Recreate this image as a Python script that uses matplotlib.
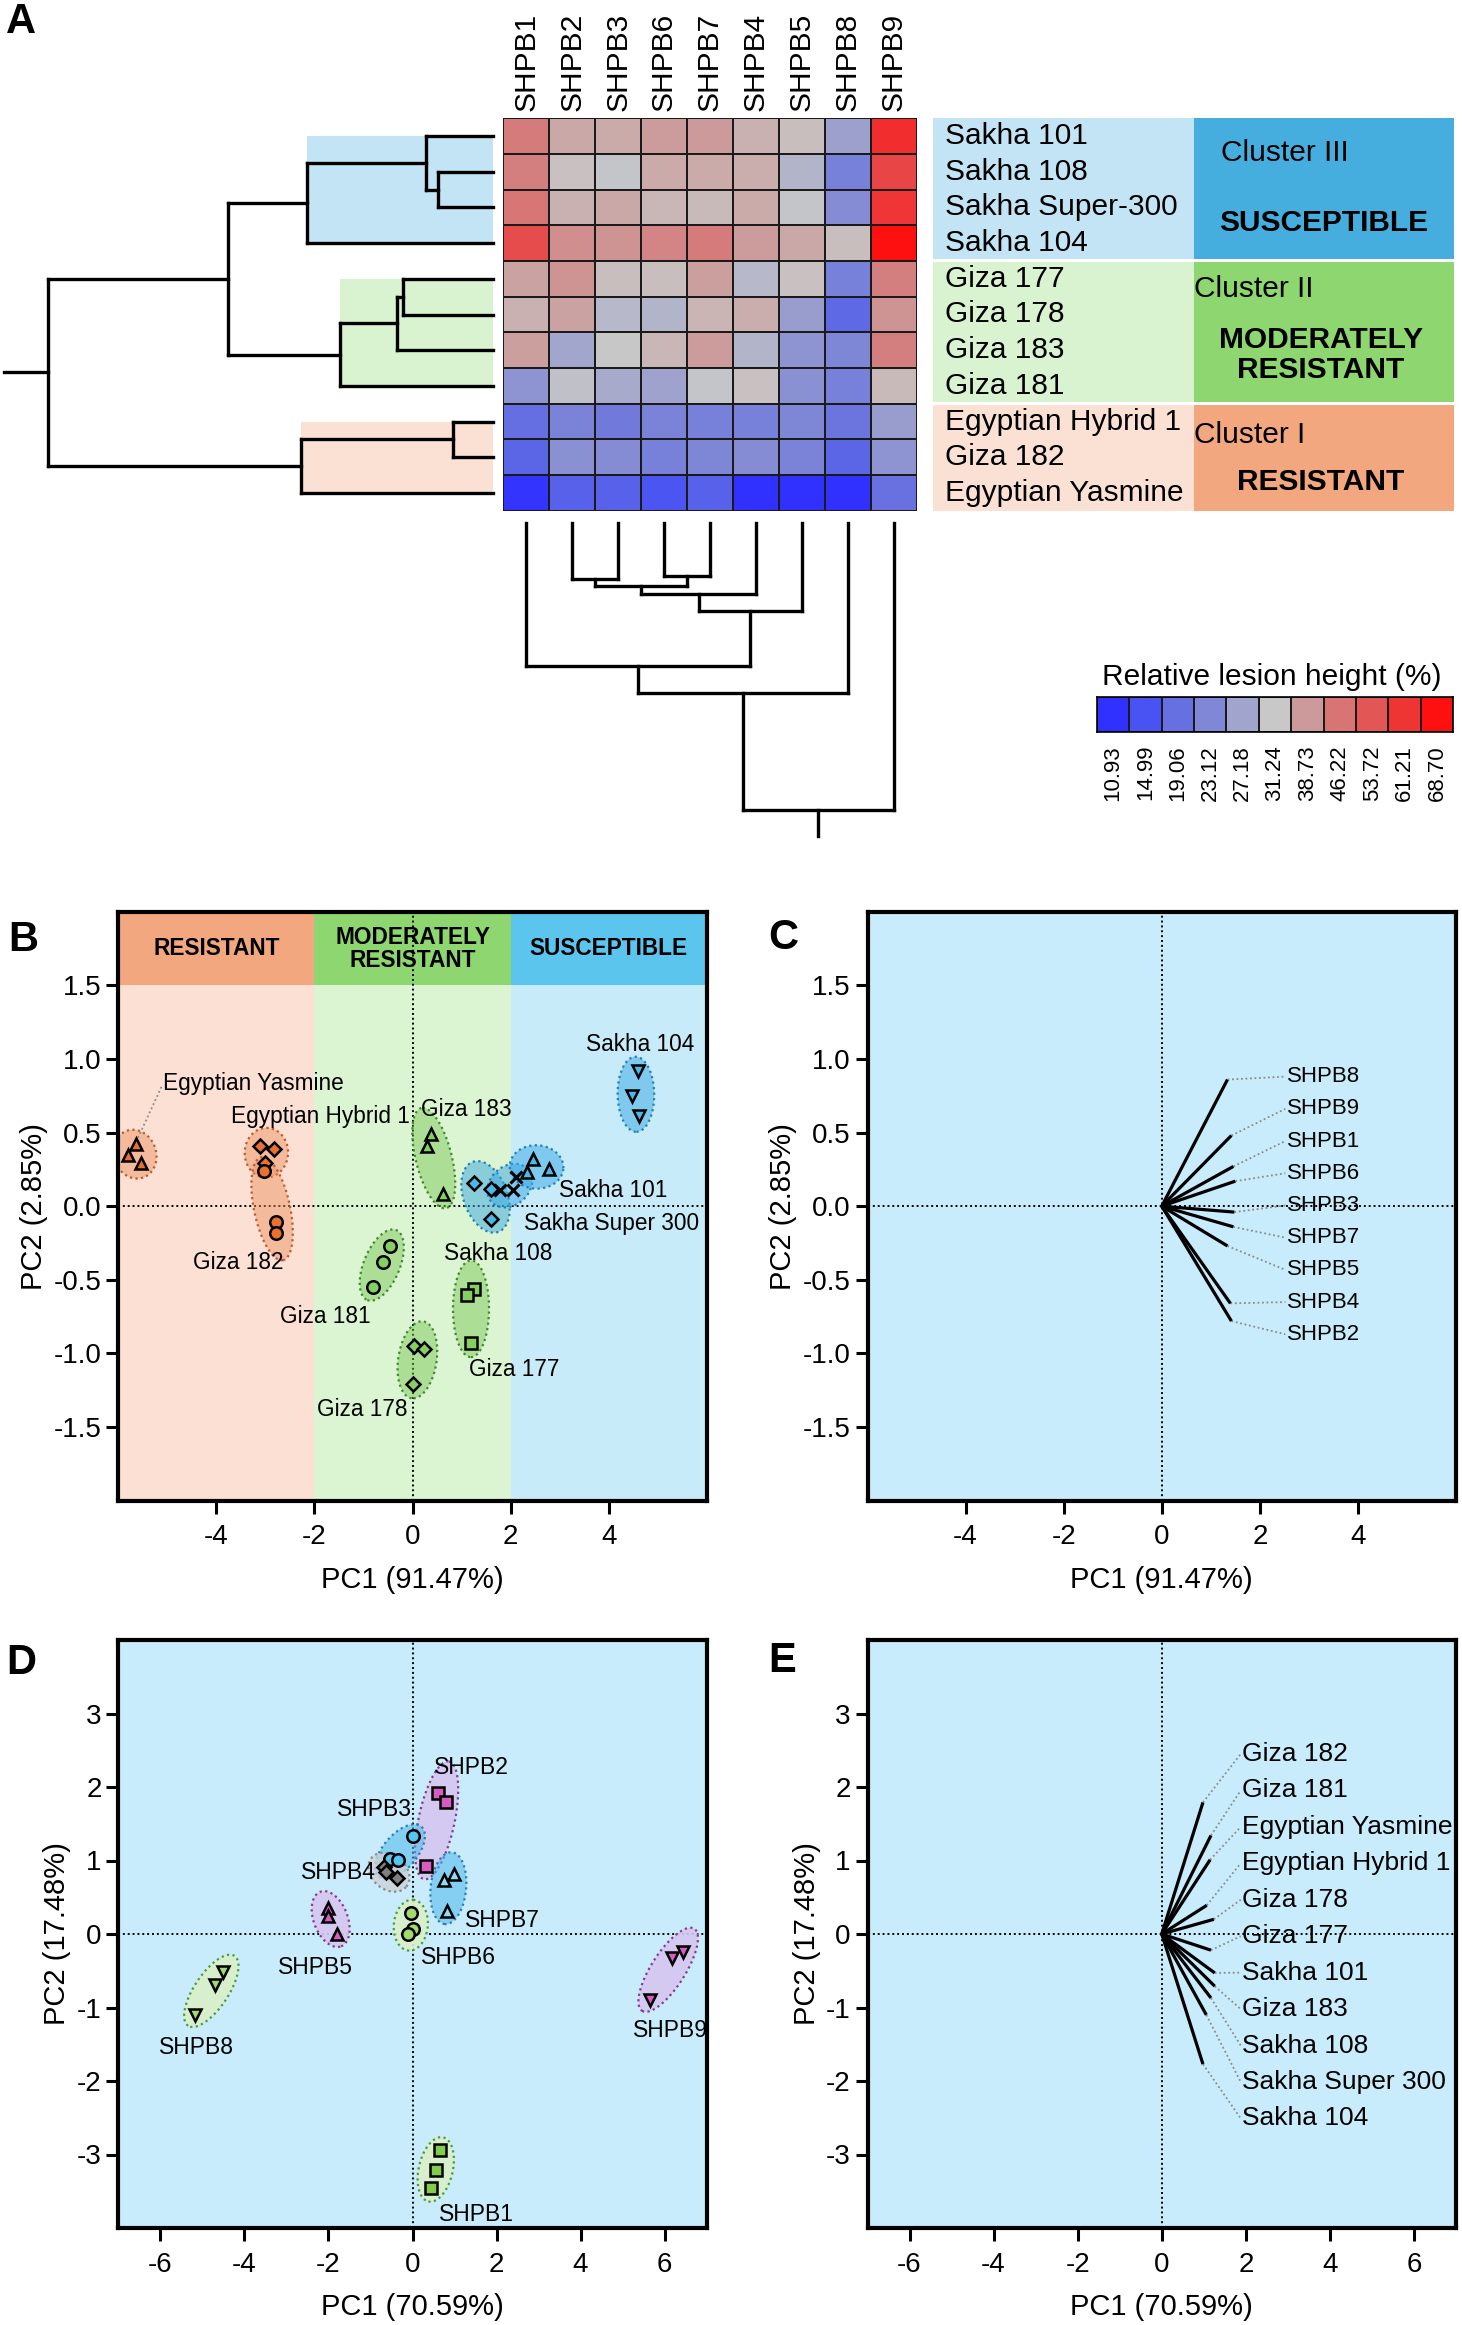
import numpy as np
import matplotlib
matplotlib.use('Agg')
import matplotlib.pyplot as plt
from matplotlib.colors import LinearSegmentedColormap, Normalize

plt.rcParams['font.family'] = ['Liberation Sans', 'DejaVu Sans']
plt.rcParams['axes.unicode_minus'] = False

# ---------------- data ----------------
cultivars = ['Sakha 101', 'Sakha 108', 'Sakha Super-300', 'Sakha 104',
             'Giza 177', 'Giza 178', 'Giza 183', 'Giza 181',
             'Egyptian Hybrid 1', 'Giza 182', 'Egyptian Yasmine']
isolates = ['SHPB1', 'SHPB2', 'SHPB3', 'SHPB6', 'SHPB7', 'SHPB4', 'SHPB5', 'SHPB8', 'SHPB9']

lesion = [
    [45.0, 36.5, 36.0, 38.3, 38.7, 35.0, 33.0, 26.8, 62.5],
    [44.0, 32.5, 31.0, 36.0, 36.0, 35.5, 29.0, 22.0, 57.0],
    [46.0, 35.0, 36.5, 34.0, 33.5, 36.0, 31.0, 24.0, 61.0],
    [56.0, 41.0, 40.0, 43.0, 45.0, 38.5, 36.5, 33.0, 68.7],
    [37.5, 40.0, 33.0, 33.0, 38.0, 29.5, 32.5, 22.0, 44.0],
    [35.0, 37.5, 29.5, 29.0, 34.5, 35.5, 26.5, 18.0, 40.0],
    [38.0, 27.5, 31.2, 34.0, 38.5, 29.0, 25.0, 23.0, 44.0],
    [25.0, 30.5, 28.0, 27.0, 31.0, 32.5, 24.5, 22.0, 33.5],
    [19.0, 22.5, 21.0, 22.5, 22.0, 22.0, 23.0, 20.0, 26.5],
    [17.5, 24.5, 24.0, 22.0, 23.0, 24.0, 22.5, 17.5, 25.0],
    [11.5, 17.0, 17.0, 15.0, 17.0, 11.0, 11.0, 11.0, 19.5],
]

legend_vals = [10.93, 14.99, 19.06, 23.12, 27.18, 31.24, 38.73, 46.22, 53.72, 61.21, 68.70]
legend_cols = ['#3030ff', '#4a55f2', '#6670e0', '#7f87d6', '#a0a3cc', '#c8c8c8',
               '#cc9a9a', '#d87474', '#e25656', '#ef3434', '#ff1010']

# dendrogram merges (child a, child b, height); nodes numbered after the leaves
row_merges = [(1, 2, 55.0), (0, 11, 66.7), (12, 3, 185.4), (4, 5, 89.4), (14, 6, 95.4),
              (15, 7, 152.7), (13, 16, 264.4), (8, 9, 40.0), (18, 10, 191.7), (17, 19, 445.0)]
row_root_stem = 488.7
col_merges = [(1, 2, 56.0), (3, 4, 52.7), (9, 10, 62.3), (11, 5, 70.7), (12, 6, 87.3),
              (0, 13, 142.3), (14, 7, 170.0), (15, 8, 286.7)]
col_root_stem = 312.7

cluster_names = ['Cluster III', 'Cluster II', 'Cluster I']
cluster_class = ['SUSCEPTIBLE', 'MODERATELY\nRESISTANT', 'RESISTANT']
cluster_rows = [(0, 3), (4, 7), (8, 10)]
cluster_node = [2, 5, 8]   # index of merge that closes each cluster

# PCA of cultivars (panel B), 3 replicates each
b_groups = ['Egyptian Yasmine', 'Egyptian Hybrid 1', 'Giza 182', 'Giza 183', 'Giza 181',
            'Giza 177', 'Giza 178', 'Sakha 108', 'Sakha Super 300', 'Sakha 101', 'Sakha 104']
b_pc1 = [[-5.81, -5.63, -5.54], [-3.11, -2.82, -3.01], [-3.03, -2.78, -2.78],
         [0.37, 0.30, 0.63], [-0.46, -0.61, -0.81], [1.26, 1.12, 1.20],
         [0.04, 0.24, 0.02], [1.26, 1.60, 1.61], [1.79, 2.05, 2.11],
         [2.46, 2.34, 2.79], [4.59, 4.47, 4.61]]
b_pc2 = [[0.35, 0.42, 0.29], [0.41, 0.39, 0.29], [0.24, -0.11, -0.18],
         [0.49, 0.41, 0.08], [-0.27, -0.38, -0.55], [-0.56, -0.60, -0.93],
         [-0.95, -0.97, -1.21], [0.16, 0.12, -0.09], [0.11, 0.11, 0.20],
         [0.32, 0.23, 0.25], [0.92, 0.75, 0.61]]
b_class = ['R', 'R', 'R', 'M', 'M', 'M', 'M', 'S', 'S', 'S', 'S']
b_marker = ['^', 'D', 'o', '^', 'o', 's', 'D', 'D', 'x', '^', 'v']

# loadings (panel C)
c_names = ['SHPB8', 'SHPB9', 'SHPB1', 'SHPB6', 'SHPB3', 'SHPB7', 'SHPB5', 'SHPB4', 'SHPB2']
c_pc1 = [1.34, 1.42, 1.46, 1.50, 1.48, 1.46, 1.34, 1.40, 1.42]
c_pc2 = [0.86, 0.48, 0.27, 0.17, -0.04, -0.14, -0.27, -0.66, -0.78]

# PCA of isolates (panel D)
d_groups = ['SHPB2', 'SHPB3', 'SHPB4', 'SHPB7', 'SHPB5', 'SHPB6', 'SHPB8', 'SHPB9', 'SHPB1']
d_pc1 = [[0.60, 0.79, 0.33], [0.00, -0.54, -0.35], [-0.68, -0.62, -0.38],
         [0.76, 0.98, 0.82], [-2.02, -2.02, -1.80], [-0.03, 0.02, -0.11],
         [-4.50, -4.69, -5.17], [6.43, 6.18, 5.64], [0.66, 0.55, 0.45]]
d_pc2 = [[1.92, 1.80, 0.92], [1.33, 1.02, 1.01], [0.91, 0.85, 0.76],
         [0.74, 0.82, 0.31], [0.36, 0.25, 0.00], [0.29, 0.07, 0.00],
         [-0.52, -0.70, -1.10], [-0.24, -0.32, -0.90], [-2.94, -3.21, -3.46]]
d_marker = ['s', 'o', 'D', '^', '^', 'o', 'v', 'v', 's']
d_style = ['pink', 'cyan', 'grey', 'lcyan', 'pink', 'lgreen', 'lgreen', 'pink', 'green']

# loadings (panel E)
e_names = ['Giza 182', 'Giza 181', 'Egyptian Yasmine', 'Egyptian Hybrid 1', 'Giza 178',
           'Giza 177', 'Sakha 101', 'Giza 183', 'Sakha 108', 'Sakha Super 300', 'Sakha 104']
e_pc1 = [0.98, 1.17, 1.15, 1.07, 1.24, 1.17, 1.26, 1.26, 1.17, 1.06, 0.98]
e_pc2 = [1.79, 1.34, 1.01, 0.39, 0.20, -0.22, -0.53, -0.71, -0.87, -1.10, -1.77]

# ---------------- layout helpers ----------------
W, H = 1462, 2325
fig = plt.figure(figsize=(W / 100, H / 100), dpi=100)


def px_axes(x0, y0, x1, y1):
    return fig.add_axes([x0 / W, 1 - y1 / H, (x1 - x0) / W, (y1 - y0) / H])


def ftext(x, y, s, **kw):
    fig.text(x / W, 1 - y / H, s, **kw)


def dendro_segments(merges, n):
    pos = {i: i + 0.5 for i in range(n)}
    hgt = {i: 0.0 for i in range(n)}
    segs = []
    for k, (a, b, h) in enumerate(merges):
        segs.append(((hgt[a], pos[a]), (h, pos[a])))
        segs.append(((hgt[b], pos[b]), (h, pos[b])))
        segs.append(((h, pos[a]), (h, pos[b])))
        pos[n + k] = (pos[a] + pos[b]) / 2
        hgt[n + k] = h
    return segs, pos, hgt


def group_ellipse(ax, xs, ys, sx, sy, face, edge, pad=14, min_r=18):
    P = np.column_stack([np.asarray(xs) * sx, np.asarray(ys) * sy])
    c = P.mean(axis=0)
    d = P - c
    _, _, vt = np.linalg.svd(d)
    proj = d @ vt.T
    a = np.abs(proj[:, 0]).max() + pad
    b = max(np.abs(proj[:, 1]).max() + pad, min_r)
    a = max(a, b)
    t = np.linspace(0, 2 * np.pi, 120)
    pts = c + np.outer(a * np.cos(t), vt[0]) + np.outer(b * np.sin(t), vt[1])
    ax.fill(pts[:, 0] / sx, pts[:, 1] / sy, facecolor=face, edgecolor=edge,
            ls=(0, (1, 1.5)), lw=1.6, zorder=2)


def style_pca(ax, xlim, ylim, xticks, yticks, yfmt, xlabel, ylabel, bg):
    ax.set_facecolor(bg)
    ax.set_xlim(*xlim)
    ax.set_ylim(*ylim)
    ax.set_xticks(xticks)
    ax.set_yticks(yticks)
    ax.set_yticklabels([yfmt.format(v) for v in yticks])
    ax.tick_params(labelsize=20, width=2.2, length=9, direction='out')
    ax.tick_params(axis='x', pad=8)
    ax.tick_params(axis='y', pad=3)
    for sp in ax.spines.values():
        sp.set_linewidth(3)
    ax.axhline(0, color='black', ls=(0, (1, 1.5)), lw=1.4, zorder=1.5)
    ax.axvline(0, color='black', ls=(0, (1, 1.5)), lw=1.4, zorder=1.5)
    ax.set_xlabel(xlabel, fontsize=21, labelpad=11)
    ax.set_ylabel(ylabel, fontsize=21, labelpad=4)


# ---------------- panel A ----------------
vmin, vmax = legend_vals[0], legend_vals[-1]
cmap = LinearSegmentedColormap.from_list(
    'lesion', list(zip([(v - vmin) / (vmax - vmin) for v in legend_vals], legend_cols)))
norm = Normalize(vmin, vmax)

hx0, hy0, hx1, hy1 = 503.3, 118.3, 916.7, 510.7
axh = px_axes(hx0, hy0, hx1, hy1)
axh.pcolormesh(np.array(lesion), cmap=cmap, norm=norm, edgecolors='#1a1a1a', linewidth=1.3)
axh.set_xlim(0, 9)
axh.set_ylim(11, 0)
axh.axis('off')
cw = (hx1 - hx0) / 9
rh = (hy1 - hy0) / 11
for j, name in enumerate(isolates):
    ftext(hx0 + cw * (j + 0.5), 111, name, rotation=90, ha='center', va='bottom', fontsize=21.5)

# row dendrogram
leaf_x = 492.7
axr = px_axes(0, hy0, hx0, hy1)
axr.set_xlim(leaf_x, leaf_x - hx0)
axr.set_ylim(11, 0)
axr.axis('off')
segs, rpos, rhgt = dendro_segments(row_merges, 11)
fill_cols = ['#c3e4f4', '#d9f2cf', '#fbe1d3']
for (r0, r1), k, fc in zip(cluster_rows, cluster_node, fill_cols):
    h = row_merges[k][2]
    axr.fill_between([0, h], r0 + 0.5, r1 + 0.5, color=fc, lw=0, zorder=0)
for (p, q) in segs:
    axr.plot([p[0], q[0]], [p[1], q[1]], color='black', lw=2.4, solid_capstyle='projecting')
root = len(row_merges) + 10
axr.plot([rhgt[root], row_root_stem], [rpos[root]] * 2, color='black', lw=2.4)

# column dendrogram
axc = px_axes(hx0, hy1, hx1, 845)
axc.set_xlim(0, 9)
axc.set_ylim(845 - 523.3, hy1 - 523.3)
axc.axis('off')
segs, cpos, chgt = dendro_segments(col_merges, 9)
for (p, q) in segs:
    axc.plot([p[1], q[1]], [p[0], q[0]], color='black', lw=2.4, solid_capstyle='projecting')
croot = len(col_merges) + 8
axc.plot([cpos[croot]] * 2, [chgt[croot], col_root_stem], color='black', lw=2.4)

# cluster label blocks
light = ['#c3e4f4', '#d9f2cf', '#fbe1d3']
dark = ['#46aedf', '#8ed670', '#f2a77f']
bx0, bx1, bx2 = 933.3, 1194, 1454
for ci, (r0, r1) in enumerate(cluster_rows):
    y0 = hy0 + r0 * rh + (0 if ci == 0 else 1.5)
    y1 = hy0 + (r1 + 1) * rh - (0 if ci == 2 else 1.5)
    axb = px_axes(bx0, y0, bx2, y1)
    axb.set_xlim(bx0, bx2)
    axb.set_ylim(y1, y0)
    axb.axis('off')
    axb.fill_between([bx0, bx1], y0, y1, color=light[ci], lw=0)
    axb.fill_between([bx1, bx2], y0, y1, color=dark[ci], lw=0)
    for r in range(r0, r1 + 1):
        ftext(945, hy0 + rh * (r + 0.5), cultivars[r], fontsize=21.5, va='center', ha='left')

ftext(1221, 153, cluster_names[0], fontsize=21.5, va='center', ha='left')
ftext(1324, 223, cluster_class[0], fontsize=21.5, va='center', ha='center', weight='bold')
ftext(1194, 289, cluster_names[1], fontsize=21.5, va='center', ha='left')
ftext(1321, 355, cluster_class[1], fontsize=21.5, va='center', ha='center', weight='bold',
      linespacing=1.05)
ftext(1194, 435, cluster_names[2], fontsize=21.5, va='center', ha='left')
ftext(1321, 482, cluster_class[2], fontsize=21.5, va='center', ha='center', weight='bold')

# colour key
axk = px_axes(1096.7, 697.3, 1453.3, 732.3)
axk.pcolormesh(np.array([legend_vals]), cmap=cmap, norm=norm, edgecolors='#1a1a1a', linewidth=1.2)
axk.set_xlim(0, len(legend_vals))
axk.set_ylim(0, 1)
axk.set_xticks([])
axk.set_yticks([])
for sp in axk.spines.values():
    sp.set_linewidth(1.2)
kw = (1453.3 - 1096.7) / len(legend_vals)
for i, v in enumerate(legend_vals):
    ftext(1096.7 + kw * (i + 0.5), 745, '{:.2f}'.format(v), rotation=90, ha='center', va='top',
          fontsize=16)
ftext(1272, 677, 'Relative lesion height (%)', fontsize=21.5, ha='center', va='center')

# ---------------- panel B ----------------
bg_light = {'R': '#fbe0d3', 'M': '#dbf4d1', 'S': '#c8ebfa'}
bg_dark = {'R': '#f2a77f', 'M': '#8ed670', 'S': '#5cc5ee'}
mk_col = {'R': '#e8712f', 'M': '#86cf63', 'S': '#4db8e6'}
el_face = {'R': (0.93, 0.55, 0.35, 0.45), 'M': (0.45, 0.78, 0.30, 0.45), 'S': (0.22, 0.66, 0.90, 0.5)}
el_edge = {'R': '#c05a30', 'M': '#3f8a32', 'S': '#2480b8'}

axB = px_axes(118.3, 911.7, 706.7, 1500.7)
style_pca(axB, (-6, 6), (-2, 2), [-4, -2, 0, 2, 4], [1.5, 1.0, 0.5, 0.0, -0.5, -1.0, -1.5],
          '{:.1f}', 'PC1 (91.47%)', 'PC2 (2.85%)', 'white')
spans = [('R', -6, -2), ('M', -2, 2), ('S', 2, 6)]
for key, x0, x1 in spans:
    axB.axvspan(x0, x1, ymin=0, ymax=0.875, color=bg_light[key], lw=0, zorder=0)
    axB.axvspan(x0, x1, ymin=0.875, ymax=1, color=bg_dark[key], lw=0, zorder=0)
axB.text(-4, 1.75, 'RESISTANT', ha='center', va='center', fontsize=16.3, weight='bold')
axB.text(0, 1.75, 'MODERATELY\nRESISTANT', ha='center', va='center', fontsize=16.3,
         weight='bold', linespacing=1.0)
axB.text(4, 1.75, 'SUSCEPTIBLE', ha='center', va='center', fontsize=16.3, weight='bold')

sxB, syB = 588.4 / 12, 589.0 / 4
for xs, ys, cl, mk in zip(b_pc1, b_pc2, b_class, b_marker):
    group_ellipse(axB, xs, ys, sxB, syB, el_face[cl], el_edge[cl])
for xs, ys, cl, mk in zip(b_pc1, b_pc2, b_class, b_marker):
    if mk == 'x':
        axB.plot(xs, ys, ls='none', marker='x', ms=8.5, mew=2.2, color='black', zorder=4)
    else:
        ms = 7 if mk == 'D' else 9
        axB.plot(xs, ys, ls='none', marker=mk, ms=ms, mew=1.8, mfc=mk_col[cl], mec='black',
                 zorder=4)

b_label_pos = [(-5.08, 0.83), (-3.70, 0.61), (-4.47, -0.38), (0.18, 0.66), (-2.70, -0.75),
               (1.16, -1.11), (-1.95, -1.38), (0.65, -0.32), (2.28, -0.12), (2.99, 0.11),
               (3.54, 1.10)]
for name, (lx, ly) in zip(b_groups, b_label_pos):
    axB.text(lx, ly, name, fontsize=16.3, ha='left', va='center', zorder=5)
axB.plot([-5.12, np.mean(b_pc1[0])], [0.81, np.max(b_pc2[0])], color='#8a8a8a',
         ls=(0, (1, 1.5)), lw=1.3, zorder=3)

# ---------------- panel C ----------------
axC = px_axes(867.5, 911.7, 1456, 1500.7)
style_pca(axC, (-6, 6), (-2, 2), [-4, -2, 0, 2, 4], [1.5, 1.0, 0.5, 0.0, -0.5, -1.0, -1.5],
          '{:.1f}', 'PC1 (91.47%)', 'PC2 (2.85%)', '#c8ecfb')
c_label_y = np.linspace(0.88, -0.87, len(c_names))
for name, x, y, ly in zip(c_names, c_pc1, c_pc2, c_label_y):
    axC.plot([0, x], [0, y], color='black', lw=2.3, zorder=3, solid_capstyle='butt')
    axC.plot([x, 2.52], [y, ly], color='#8a8a8a', ls=(0, (1, 1.5)), lw=1.3, zorder=2.5)
    axC.text(2.55, ly, name, fontsize=16, ha='left', va='center', zorder=4)

# ---------------- panel D ----------------
d_col = {'pink': '#d65cbf', 'cyan': '#56c6f0', 'grey': '#7f7f7f', 'lcyan': '#8fdcf4',
         'lgreen': '#a3d96e', 'green': '#7fcc4f'}
d_face = {'pink': (0.84, 0.78, 0.94, 0.9), 'cyan': (0.30, 0.72, 0.92, 0.55),
          'grey': (0.80, 0.82, 0.84, 0.8), 'lcyan': (0.30, 0.72, 0.92, 0.55),
          'lgreen': (0.85, 0.94, 0.78, 0.9), 'green': (0.85, 0.94, 0.78, 0.9)}
d_edge = {'pink': '#8a3a8a', 'cyan': '#2a7fb5', 'grey': '#8a8a8a', 'lcyan': '#2a7fb5',
          'lgreen': '#4f9a3a', 'green': '#4f9a3a'}

dy0, dy1 = 1640, 2228
axD = px_axes(118.3, dy0, 706.7, dy1)
style_pca(axD, (-7, 7), (-4, 4), [-6, -4, -2, 0, 2, 4, 6], [3, 2, 1, 0, -1, -2, -3],
          '{:d}', 'PC1 (70.59%)', 'PC2 (17.48%)', '#c8ecfb')
sxD, syD = 588.4 / 14, (dy1 - dy0) / 8
for xs, ys, st in zip(d_pc1, d_pc2, d_style):
    group_ellipse(axD, xs, ys, sxD, syD, d_face[st], d_edge[st], pad=13, min_r=17)
for xs, ys, st, mk in zip(d_pc1, d_pc2, d_style, d_marker):
    ms = 7 if mk == 'D' else 9
    axD.plot(xs, ys, ls='none', marker=mk, ms=ms, mew=1.8, mfc=d_col[st], mec='black', zorder=4)
d_label_pos = [(0.52, 2.27), (-1.80, 1.69), (-2.65, 0.83), (1.26, 0.18), (-3.19, -0.45),
               (0.19, -0.32), (-6.04, -1.55), (5.24, -1.31), (0.62, -3.81)]
for name, (lx, ly) in zip(d_groups, d_label_pos):
    axD.text(lx, ly, name, fontsize=16.5, ha='left', va='center', zorder=5)

# ---------------- panel E ----------------
axE = px_axes(867.5, dy0, 1456, dy1)
style_pca(axE, (-7, 7), (-4, 4), [-6, -4, -2, 0, 2, 4, 6], [3, 2, 1, 0, -1, -2, -3],
          '{:d}', 'PC1 (70.59%)', 'PC2 (17.48%)', '#c8ecfb')
e_label_y = np.linspace(2.45, -2.51, len(e_names))
for name, x, y, ly in zip(e_names, e_pc1, e_pc2, e_label_y):
    axE.plot([0, x], [0, y], color='black', lw=2.3, zorder=3, solid_capstyle='butt')
    axE.plot([x, 1.88], [y, ly], color='#8a8a8a', ls=(0, (1, 1.5)), lw=1.3, zorder=2.5)
    axE.text(1.90, ly, name, fontsize=19, ha='left', va='center', zorder=4)

# panel letters
for letter, x, y in [('A', 6, 2), ('B', 8, 920), ('C', 768, 918), ('D', 6, 1643), ('E', 768, 1641)]:
    ftext(x, y, letter, fontsize=30, weight='bold', ha='left', va='top')

fig.savefig('out.png', dpi=100)
